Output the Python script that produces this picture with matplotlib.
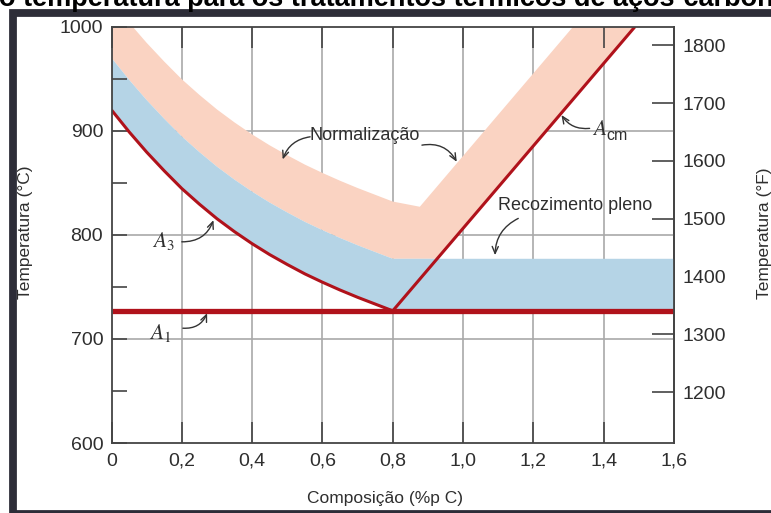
import numpy as np
import matplotlib
matplotlib.use("Agg")
import matplotlib.pyplot as plt
from matplotlib.patches import Rectangle

plt.rcParams['font.family'] = ['Liberation Sans', 'DejaVu Sans']
plt.rcParams['mathtext.fontset'] = 'stix'

# ---------------- data ----------------
carbon = [0.00, 0.05, 0.10, 0.15, 0.20, 0.25, 0.30, 0.35, 0.40,
          0.45, 0.50, 0.55, 0.60, 0.65, 0.70, 0.75, 0.80]
a3_temp = [920, 899, 879.5, 861.5, 844.5, 829.5, 815.5, 803, 791.5,
           781, 771.5, 762.5, 754.5, 747, 740, 733.5, 727]
anneal_top_hypo = [970, 949, 929.5, 911.5, 894.5, 879.5, 865.5, 853, 841.5,
                   831, 821.5, 812.5, 804.5, 797, 790, 783.5, 777]
normal_top_hypo = [1025, 1004, 984.5, 966.5, 949.5, 934.5, 920.5, 908, 896.5,
                   886, 876.5, 867.5, 859.5, 852, 845, 838.5, 832]
normal_kink_x, normal_kink_t = 0.877, 827
normal_top_hyper_x = [0.877, 1.313]
normal_top_hyper_t = [827, 1000]
a1_temp = 727
anneal_top_hyper = 777
acm_x = [0.80, 1.489]
acm_t = [727, 1000]

x_ticks = [0, 0.2, 0.4, 0.6, 0.8, 1.0, 1.2, 1.4, 1.6]
x_ticklabels = ["0", "0,2", "0,4", "0,6", "0,8", "1,0", "1,2", "1,4", "1,6"]
y_major = [600, 700, 800, 900, 1000]
y_minor = [650, 750, 850, 950]
f_ticks = [1200, 1300, 1400, 1500, 1600, 1700, 1800]

title = "o temperatura para os tratamentos térmicos de aços-carbono"

# ---------------- style ----------------
W, H = 771, 513
PINK = '#FAD3C2'
BLUE = '#B5D4E6'
RED = '#B0121B'
GRID = '#A9A9A9'
DARK = '#444444'
TXT = '#2E2E2E'

fig = plt.figure(figsize=(W / 100, H / 100), dpi=100)
fig.patch.set_facecolor('white')

x0, x1 = 111.5, 674.0
ytop, ybot = 26.7, 443.0
ax = fig.add_axes([x0 / W, 1 - ybot / H, (x1 - x0) / W, (ybot - ytop) / H])
ax.set_xlim(0, 1.6)
ax.set_ylim(600, 1000)

# gridlines (behind the bands)
for xv in x_ticks[1:-1]:
    ax.axvline(xv, color=GRID, lw=1.2, zorder=0.5)
for yv in y_major[1:-1]:
    ax.axhline(yv, color=GRID, lw=1.2, zorder=0.5)

# bands
x_cross = float(np.interp(anneal_top_hyper, acm_t, acm_x))
pink_x = carbon + [normal_kink_x, normal_top_hyper_x[1], acm_x[1], x_cross, carbon[-1]] + carbon[::-1]
pink_t = normal_top_hypo + [normal_kink_t, normal_top_hyper_t[1], acm_t[1],
                            anneal_top_hyper, anneal_top_hyper] + anneal_top_hypo[::-1]
ax.fill(pink_x, pink_t, color=PINK, lw=0, zorder=1)

blue_x = carbon + [1.6, 1.6] + carbon[::-1]
blue_t = anneal_top_hypo + [anneal_top_hyper, a1_temp] + a3_temp[::-1]
ax.fill(blue_x, blue_t, color=BLUE, lw=0, zorder=1)

# phase boundaries
ax.plot(carbon, a3_temp, color=RED, lw=2.2, zorder=3, solid_capstyle='butt',
        solid_joinstyle='round')
ax.plot(acm_x, acm_t, color=RED, lw=2.2, zorder=3, solid_capstyle='butt')
ax.plot([0, 1.6], [a1_temp, a1_temp], color=RED, lw=3.8, zorder=3, solid_capstyle='butt')

# axes / ticks
for sp in ax.spines.values():
    sp.set_color(DARK)
    sp.set_linewidth(1.3)
    sp.set_zorder(5)
ax.set_xticks(x_ticks)
ax.set_xticklabels(x_ticklabels)
ax.set_yticks(y_major)
ax.set_yticks(y_minor, minor=True)
ax.tick_params(axis='x', direction='in', length=15, width=1.2, color=DARK,
               top=True, bottom=True, labelsize=14, labelcolor=TXT, pad=7)
ax.tick_params(axis='y', which='both', direction='in', length=11, width=1.2,
               color=DARK, right=False, labelsize=14, labelcolor=TXT, pad=6)
ax.tick_params(axis='y', which='minor', labelleft=False)
for t in ax.xaxis.get_major_ticks() + ax.yaxis.get_major_ticks() + ax.yaxis.get_minor_ticks():
    t.tick1line.set_zorder(6)
    t.tick2line.set_zorder(6)
ax.set_axisbelow(False)

sec = ax.secondary_yaxis('right', functions=(lambda c: c * 9 / 5 + 32,
                                             lambda f: (f - 32) * 5 / 9))
sec.set_yticks(f_ticks)
sec.tick_params(direction='in', length=16, width=1.2, color=DARK,
                labelsize=14, labelcolor=TXT, pad=6)
sec.spines['right'].set_color(DARK)
sec.spines['right'].set_linewidth(1.3)

# axis labels
fig.text(25.5 / W, 1 - 232.5 / H, "Temperatura (°C)", rotation=90,
         ha='center', va='center', fontsize=12.5, color=TXT)
fig.text(765 / W, 1 - 233 / H, "Temperatura (°F)", rotation=90,
         ha='center', va='center', fontsize=12.5, color=TXT)
fig.text(385 / W, 1 - 498 / H, "Composição (%p C)",
         ha='center', va='center', fontsize=12.5, color=TXT)

# annotations
arrow_kw = dict(arrowstyle='->,head_length=0.5,head_width=0.22', color='#333333', lw=1.0,
                shrinkA=0, shrinkB=0)

def arrow(start, tip, rad):
    ax.annotate('', xy=tip, xytext=start, zorder=7,
                arrowprops=dict(connectionstyle=f'arc3,rad={rad}', **arrow_kw))

ax.text(0.116, 788.5, r"$A_3$", fontsize=15.5, color=TXT, ha='left', va='baseline', zorder=7)
arrow((0.200, 793.3), (0.290, 814.1), 0.35)

ax.text(0.108, 700.4, r"$A_1$", fontsize=15.5, color=TXT, ha='left', va='baseline', zorder=7)
arrow((0.203, 710.3), (0.272, 724.7), 0.35)

ax.text(1.367, 895.9, r"$A$", fontsize=15.5, color=TXT, ha='left', va='baseline', zorder=7)
ax.text(1.407, 891.5, "cm", fontsize=11.5, color=TXT, ha='left', va='baseline', zorder=7)
arrow((1.360, 902.3), (1.280, 915.1), -0.3)

ax.text(0.721, 895.4, "Normalização", fontsize=13, color=TXT, ha='center', va='center', zorder=7)
arrow((0.565, 894.2), (0.487, 872.5), 0.3)
arrow((0.883, 886.2), (0.982, 870.2), -0.35)

ax.text(1.318, 828, "Recozimento pleno", fontsize=13, color=TXT, ha='center', va='center', zorder=7)
arrow((1.157, 815.8), (1.091, 780.5), 0.3)

# frame and clipped heading
frame = Rectangle((12.5 / W, 1 - 513.5 / H), (820 - 12.5) / W, (513.5 - 13) / H,
                  transform=fig.transFigure, fill=False, edgecolor='#2D2D38',
                  lw=5.6, clip_on=False)
fig.add_artist(frame)
fig.text(-1 / W, 1 - 6 / H, title, fontsize=19.5, fontweight='bold', color='black',
         ha='left', va='baseline')

fig.savefig("out.png", dpi=100)
